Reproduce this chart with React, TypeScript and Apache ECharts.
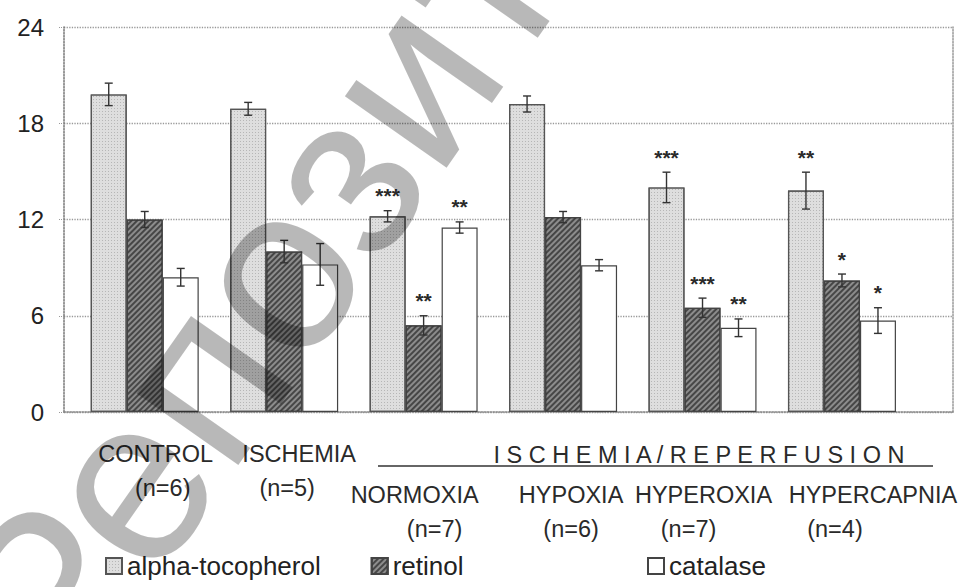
import React, { useEffect, useRef } from "react";
import * as echarts from "echarts";

const categories = ["CONTROL", "ISCHEMIA", "NORMOXIA", "HYPOXIA", "HYPEROXIA", "HYPERCAPNIA"];
const groupN = [6, 5, 7, 6, 7, 4];

const alphaValues = [19.8, 18.9, 12.2, 19.2, 14.0, 13.8];
const alphaErr = [0.7, 0.4, 0.35, 0.5, 0.95, 1.15];
const alphaStars = ["", "", "***", "", "***", "**"];

const retinolValues = [12.0, 10.0, 5.4, 12.15, 6.5, 8.2];
const retinolErr = [0.5, 0.7, 0.6, 0.35, 0.6, 0.4];
const retinolStars = ["", "", "**", "", "***", "*"];

const catalaseValues = [8.4, 9.2, 11.5, 9.15, 5.25, 5.7];
const catalaseErr = [0.55, 1.3, 0.35, 0.35, 0.55, 0.8];
const catalaseStars = ["", "", "**", "", "**", "*"];

const yTicks = { min: 0, max: 24, interval: 6 };

// horizontal nudges (px) of the category label lines, as in the original figure
const nameShift = [11, 15, -9, 8, 1, 31];
const countShift = [18, 3, 11, 8, -14, -7];

const FONT = "'Liberation Sans', Arial, sans-serif";
const BAR_W = 36;

function pad(d: number) {
  return d >= 0 ? [0, 0, 0, 2 * d] : [0, -2 * d, 0, 0];
}

function errorSeries(name: string, values: number[], errs: number[], stars: string[], slot: number) {
  return {
    name: name + " err",
    type: "custom",
    xAxisIndex: 1,
    yAxisIndex: 2,
    z: 5,
    silent: true,
    data: values.map((v, i) => [i, v, errs[i]]),
    renderItem: (params: any, api: any) => {
      const i = api.value(0);
      const v = api.value(1);
      const e = api.value(2);
      const base = api.coord([i, v]);
      const x = base[0] + (slot - 1) * BAR_W;
      const top = api.coord([i, v + e])[1];
      const bot = api.coord([i, v - e])[1];
      const cap = 4;
      const ls = { stroke: "#333", lineWidth: 1.4 };
      const children: any[] = [
        { type: "line", shape: { x1: x, y1: top, x2: x, y2: bot }, style: ls },
        { type: "line", shape: { x1: x - cap, y1: top, x2: x + cap, y2: top }, style: ls },
        { type: "line", shape: { x1: x - cap, y1: bot, x2: x + cap, y2: bot }, style: ls },
      ];
      const s = stars[params.dataIndex];
      if (s) {
        children.push({
          type: "text",
          x: x,
          y: top - 15,
          style: {
            text: s,
            fontSize: 21,
            fontWeight: "bold",
            fontFamily: FONT,
            fill: "#2a2a2a",
            align: "center",
            verticalAlign: "middle",
          },
        });
      }
      return { type: "group", children };
    },
  };
}

export default function App() {
  const ref = useRef<HTMLDivElement>(null);

  useEffect(() => {
    if (!ref.current) return;
    const chart = echarts.init(ref.current, null, { renderer: "svg" });

    const barBase = {
      type: "bar",
      xAxisIndex: 1,
      yAxisIndex: 2,
      barWidth: BAR_W,
      barGap: "0%",
    };

    const rich: any = {
      gap: { fontSize: 10, lineHeight: 41 },
    };
    categories.forEach((_, i) => {
      rich["name" + i] = {
        fontSize: 23.5,
        lineHeight: 34,
        color: "#2a2a2a",
        fontFamily: FONT,
        padding: pad(nameShift[i]),
      };
      rich["n" + i] = {
        fontSize: 23.5,
        lineHeight: 33,
        color: "#2a2a2a",
        fontFamily: FONT,
        padding: pad(countShift[i]),
      };
    });

    const legendText = { fontSize: 26, color: "#222", fontFamily: FONT };

    const option: any = {
      animation: false,
      backgroundColor: "#ffffff",
      textStyle: { fontFamily: FONT },
      grid: [
        { left: 64, right: 7, top: 27, bottom: 175 },
        { left: 75, width: 839, top: 27, bottom: 175 },
      ],
      xAxis: [
        {
          gridIndex: 0,
          type: "value",
          min: 0,
          max: 1,
          axisLine: { show: true, lineStyle: { color: "#888", type: "dotted", width: 1.5 } },
          axisTick: { show: false },
          axisLabel: { show: false },
          splitLine: { show: false },
        },
        {
          gridIndex: 1,
          type: "category",
          data: categories,
          axisLine: { show: false },
          axisTick: { show: false },
          axisLabel: {
            interval: 0,
            margin: 25,
            formatter: (value: string, index: number) =>
              index < 2
                ? `{name${index}|${value}}\n{n${index}|(n=${groupN[index]})}`
                : `{gap| }\n{name${index}|${value}}\n{n${index}|(n=${groupN[index]})}`,
            rich,
          },
        },
      ],
      yAxis: [
        {
          gridIndex: 0,
          type: "value",
          min: yTicks.min,
          max: yTicks.max,
          interval: yTicks.interval,
          axisLine: { show: true, lineStyle: { color: "#777", type: "dotted", width: 1.5 } },
          axisTick: { show: true, length: 6, lineStyle: { color: "#999", type: "dotted" } },
          axisLabel: { fontSize: 24, color: "#222", margin: 20, fontFamily: FONT },
          splitLine: { show: true, lineStyle: { color: "#999", type: "dotted", width: 1.3 } },
        },
        {
          gridIndex: 0,
          type: "value",
          min: yTicks.min,
          max: yTicks.max,
          interval: yTicks.interval,
          position: "right",
          axisLine: { show: true, lineStyle: { color: "#999", type: "dotted", width: 1.5 } },
          axisTick: { show: false },
          axisLabel: { show: false },
          splitLine: { show: false },
        },
        {
          gridIndex: 1,
          type: "value",
          min: yTicks.min,
          max: yTicks.max,
          interval: yTicks.interval,
          show: false,
        },
      ],
      legend: [
        {
          left: 105,
          top: 553,
          padding: 0,
          itemWidth: 16,
          itemHeight: 16,
          itemGap: 50,
          icon: "rect",
          data: ["alpha-tocopherol", "retinol"],
          textStyle: legendText,
        },
        {
          left: 647,
          top: 553,
          padding: 0,
          itemWidth: 16,
          itemHeight: 16,
          icon: "rect",
          data: ["catalase"],
          textStyle: legendText,
        },
      ],
      series: [
        {
          ...barBase,
          name: "alpha-tocopherol",
          data: alphaValues,
          itemStyle: {
            color: "#dedede",
            borderColor: "#555",
            borderWidth: 1.2,
            decal: {
              symbol: "rect",
              symbolSize: 1,
              color: "rgba(0,0,0,0.18)",
              dashArrayX: [1, 2],
              dashArrayY: [1, 2],
            },
          },
        },
        {
          ...barBase,
          name: "retinol",
          data: retinolValues,
          itemStyle: {
            color: "#8c8c8c",
            borderColor: "#444",
            borderWidth: 1.2,
            decal: {
              symbol: "rect",
              symbolSize: 1,
              color: "rgba(0,0,0,0.5)",
              dashArrayX: [1, 0],
              dashArrayY: [1.5, 2],
              rotation: -Math.PI / 4,
            },
          },
        },
        {
          ...barBase,
          name: "catalase",
          data: catalaseValues,
          itemStyle: { color: "#ffffff", borderColor: "#444", borderWidth: 1.2 },
        },
        errorSeries("alpha-tocopherol", alphaValues, alphaErr, alphaStars, 0),
        errorSeries("retinol", retinolValues, retinolErr, retinolStars, 1),
        errorSeries("catalase", catalaseValues, catalaseErr, catalaseStars, 2),
      ],
      graphic: [
        {
          type: "text",
          x: 699,
          y: 455,
          style: {
            text: "I S C H E M I A / R E P E R F U S I O N",
            fontSize: 23.5,
            fontFamily: FONT,
            fill: "#2a2a2a",
            align: "center",
            verticalAlign: "middle",
          },
        },
        {
          type: "line",
          shape: { x1: 378, y1: 466, x2: 933, y2: 466 },
          style: { stroke: "#333", lineWidth: 1.5 },
        },
        {
          type: "text",
          x: 405,
          y: 85,
          rotation: 0.96,
          z: 100,
          silent: true,
          style: {
            text: "Репозиторий",
            fontSize: 235,
            fontFamily: FONT,
            fill: "rgba(0,0,0,0.28)",
            align: "center",
            verticalAlign: "middle",
          },
        },
      ],
    };

    chart.setOption(option);
    return () => chart.dispose();
  }, []);

  return <div ref={ref} style={{ width: 960, height: 587, position: "absolute", left: 0, top: 0 }} />;
}
